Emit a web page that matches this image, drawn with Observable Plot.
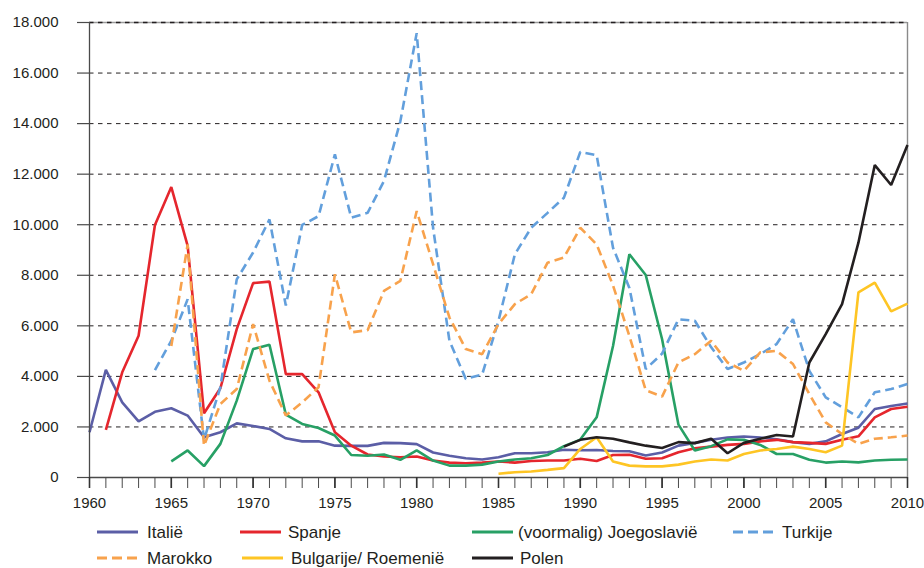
<!DOCTYPE html>
<html>
<head>
<meta charset="utf-8">
<script src="https://cdn.jsdelivr.net/npm/d3@7"></script>
<script src="https://cdn.jsdelivr.net/npm/@observablehq/plot@0.6"></script>
<style>
  html, body { margin: 0; padding: 0; background: #fff; }
  #wrap { position: relative; width: 924px; height: 568px; overflow: hidden; font-family: "Liberation Sans", Arial, sans-serif; color: #231f20; }
  #chart svg { display: block; }
  .lg { position: absolute; display: flex; align-items: center; font-size: 17px; line-height: 17px; height: 17px; white-space: nowrap; }
  .lg svg { display: block; }
</style>
</head>
<body>
<div id="wrap">
  <div id="chart"></div>
  <div id="legend"></div>
</div>
<script>
// ---- data ----
const seriesNames = ["Italië", "Spanje", "(voormalig) Joegoslavië", "Turkije", "Marokko", "Bulgarije/ Roemenië", "Polen"];
const seriesColors = ["#5b5ea6", "#e5262d", "#27a065", "#629fdc", "#f8a24c", "#fec524", "#231f20"];
const seriesDash = [null, null, null, "9,5", "9,5", null, null];
const seriesStart = [1960, 1961, 1965, 1964, 1965, 1985, 1989];

const italie = [1790, 4260, 2970, 2220, 2600, 2740, 2450, 1590, 1790, 2140, 2040, 1920, 1550, 1430, 1430, 1260, 1250, 1250, 1370, 1360, 1320, 990, 860, 760, 710, 800, 960, 960, 1000, 1100, 1080, 1090, 1050, 1040, 870, 990, 1260, 1370, 1490, 1580, 1620, 1580, 1510, 1400, 1330, 1430, 1720, 1970, 2710, 2830, 2930];
const spanje = [1880, 4160, 5610, 9990, 11490, 9160, 2540, 3530, 5870, 7690, 7750, 4090, 4090, 3370, 1790, 1260, 910, 830, 800, 830, 670, 590, 565, 590, 630, 590, 650, 670, 670, 740, 650, 890, 900, 740, 760, 1000, 1160, 1220, 1290, 1330, 1430, 1490, 1400, 1370, 1330, 1490, 1630, 2380, 2710, 2800];
const joegoslavie = [640, 1070, 450, 1330, 3040, 5080, 5250, 2490, 2120, 1960, 1660, 890, 860, 910, 700, 1070, 670, 470, 470, 510, 630, 710, 760, 890, 1240, 1500, 2380, 5200, 8830, 8010, 5470, 2090, 1070, 1240, 1510, 1490, 1290, 930, 930, 700, 590, 630, 600, 670, 700, 710];
const turkije = [4250, 5410, 7050, 1500, 3570, 7840, 8900, 10210, 6800, 9990, 10340, 12780, 10280, 10470, 11730, 14090, 17580, 9880, 5410, 3900, 4070, 6200, 8830, 9880, 10470, 11070, 12880, 12750, 9090, 7500, 4290, 4900, 6260, 6200, 5150, 4290, 4550, 4880, 5280, 6260, 4220, 3170, 2780, 2380, 3370, 3500, 3700];
const marokko = [5200, 9220, 1260, 2910, 3500, 6070, 3830, 2450, 2970, 3570, 8040, 5740, 5830, 7380, 7780, 10540, 8440, 6330, 5080, 4880, 6070, 6860, 7250, 8500, 8700, 9880, 9220, 7600, 5600, 3450, 3200, 4550, 4880, 5410, 4550, 4220, 4950, 5010, 4490, 3300, 2180, 1720, 1330, 1530, 1590, 1660];
const bulgarije = [150, 210, 240, 300, 370, 1130, 1590, 630, 470, 440, 440, 510, 630, 710, 670, 930, 1070, 1130, 1220, 1130, 1000, 1260, 7320, 7710, 6570, 6880];
const polen = [1220, 1490, 1590, 1530, 1390, 1260, 1170, 1400, 1360, 1530, 960, 1370, 1530, 1680, 1620, 4550, 5670, 6860, 9290, 12360, 11570, 13150];

const seriesValues = [italie, spanje, joegoslavie, turkije, marokko, bulgarije, polen];
const yTicks = [0, 2000, 4000, 6000, 8000, 10000, 12000, 14000, 16000, 18000];
const xLabelTicks = [1960, 1965, 1970, 1975, 1980, 1985, 1990, 1995, 2000, 2005, 2010];

// ---- build table ----
const rows = [];
seriesValues.forEach((vals, i) => {
  vals.forEach((v, j) => rows.push({series: seriesNames[i], year: seriesStart[i] + j, value: v}));
});
const yearTicks = d3.range(1960, 2011);
const fmt = d => d3.format(",")(d).replace(/,/g, ".");

const lineMarks = seriesNames.map((name, i) =>
  Plot.line(rows.filter(r => r.series === name), {
    x: "year", y: "value",
    stroke: seriesColors[i], strokeWidth: 2.6,
    strokeDasharray: seriesDash[i] || undefined,
    strokeLinejoin: "miter", strokeLinecap: "butt"
  })
);

const chart = Plot.plot({
  width: 924,
  height: 515,
  marginLeft: 89,
  marginRight: 17,
  marginTop: 22,
  marginBottom: 38,
  style: {fontFamily: "'Liberation Sans', Arial, sans-serif", fontSize: "15px", color: "#231f20", background: "#fff"},
  x: {domain: [1960, 2010]},
  y: {domain: [0, 18000]},
  marks: [
    Plot.ruleY(yTicks.filter(d => d > 0 && d < 18000), {stroke: "#231f20", strokeWidth: 1, strokeDasharray: "4.5,4.5"}),
    Plot.ruleY([18000], {stroke: "#9a9a9a", strokeWidth: 1.6}),
    Plot.ruleY([18000], {stroke: "#231f20", strokeWidth: 1.6, strokeDasharray: "4.5,4.5"}),
    Plot.ruleX([2010], {stroke: "#8a8a8a", strokeWidth: 1.4}),
    ...lineMarks,
    Plot.ruleX([1960], {stroke: "#4a4a4a", strokeWidth: 1.3}),
    Plot.ruleY([0], {stroke: "#4a4a4a", strokeWidth: 1.3}),
    Plot.axisY({ticks: yTicks, tickSize: 12, tickPadding: 19, tickFormat: fmt, stroke: "#4a4a4a", strokeWidth: 1.2, label: null}),
    Plot.axisX({ticks: yearTicks, tickSize: 11, tickFormat: () => "", stroke: "#4a4a4a", strokeWidth: 1, label: null}),
    Plot.axisX({ticks: xLabelTicks, tickSize: 11, tickPadding: 9, tickFormat: d => String(d), stroke: "#333", strokeWidth: 1.6, label: null})
  ]
});
document.getElementById("chart").appendChild(chart);

// ---- legend (HTML below the SVG) ----
const legendPos = [
  {sx: 97, tx: 147, cy: 532},
  {sx: 240, tx: 288, cy: 532},
  {sx: 472, tx: 518, cy: 532},
  {sx: 733, tx: 782, cy: 532},
  {sx: 97, tx: 147, cy: 558},
  {sx: 242, tx: 291, cy: 558},
  {sx: 472, tx: 520, cy: 558}
];
const legend = document.getElementById("legend");
seriesNames.forEach((name, i) => {
  const p = legendPos[i];
  const item = document.createElement("div");
  item.className = "lg";
  item.style.left = p.sx + "px";
  item.style.top = (p.cy - 8.5) + "px";
  const w = 41;
  const gap = p.tx - p.sx - w;
  item.innerHTML = `<svg width="${w}" height="6" style="margin-right:${gap}px"><line x1="0" x2="${w}" y1="3" y2="3" stroke="${seriesColors[i]}" stroke-width="3" ${seriesDash[i] ? 'stroke-dasharray="10,5"' : ''}/></svg><span>${name}</span>`;
  legend.appendChild(item);
});
</script>
</body>
</html>
